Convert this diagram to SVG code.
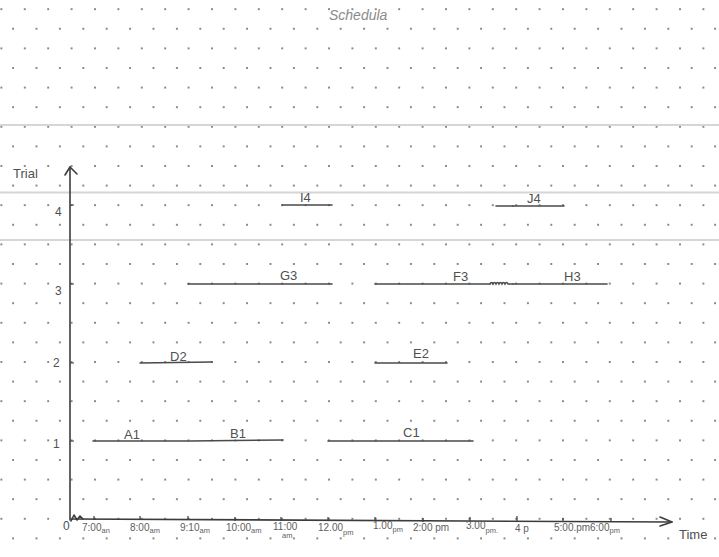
<svg xmlns="http://www.w3.org/2000/svg" width="719" height="557" viewBox="0 0 719 557">
<style>
.seg{stroke:#4a4a4a;stroke-width:1.6;fill:none;stroke-linecap:round}
.axis{stroke:#3c3c3c;stroke-width:1.6;fill:none;stroke-linecap:round;stroke-linejoin:round}
.tick{stroke:#3c3c3c;stroke-width:1.2;fill:none}
.rule{stroke:#d6d6d6;stroke-width:2}
.lbl{font-family:"Liberation Sans","DejaVu Sans",sans-serif;font-size:13px;fill:#505050}
.num{font-family:"Liberation Sans","DejaVu Sans",sans-serif;font-size:12px;fill:#505050}
.tm{font-family:"Liberation Sans","DejaVu Sans",sans-serif;font-size:10px;fill:#606060}
.sub{font-size:7.5px}
.title{font-family:"Liberation Sans","DejaVu Sans",sans-serif;font-size:14px;fill:#8a8a8a;font-style:italic}
</style>
<defs>
<pattern id="dots" patternUnits="userSpaceOnUse" x="0.4" y="8.2" width="23.4" height="39.2">
<circle cx="1" cy="1" r="1" fill="#666666"/>
<circle cx="12.7" cy="20.6" r="1" fill="#666666"/>
</pattern>
</defs>
<rect width="719" height="557" fill="#ffffff"/>
<rect width="719" height="557" fill="url(#dots)"/>
<g id="rules">
<line class="rule" x1="0" y1="125" x2="719" y2="125"/>
<line class="rule" x1="0" y1="192.5" x2="719" y2="192.5"/>
<line class="rule" x1="0" y1="240" x2="719" y2="240"/>
</g>
<text class="title" x="329" y="20">Schedula</text>
<g id="axes">
<path class="axis" d="M70,520 L70,167"/>
<path class="axis" d="M65,175 L70,167 L77,174"/>
<path class="axis" d="M72,519 L672,522"/>
<path class="axis" d="M660,517 L672,522 L660,526"/>
<path class="axis" d="M71,521 L74,515 L77,520 L80,516 L83,519"/>
<path class="tick" d="M70,205 h4 M70,284 h4 M70,363 h4 M70,441 h4"/>
<path class="tick" d="M94,516 v4 M140,516 v4 M188,516 v4 M235,517 v4 M281,517 v4 M328,517 v4 M375,517 v4 M423,518 v4 M470,517 v5 M517,516 v6 M563,518 v4 M611,518 v4"/>
<text class="lbl" x="13" y="178" font-size="14">Trial</text>
<text class="num" x="55" y="216" font-size="15">4</text>
<text class="num" x="55" y="295" font-size="11">3</text>
<text class="num" x="53" y="367">2</text>
<text class="num" x="53" y="448">1</text>
<text class="num" x="63" y="530" font-size="11">0</text>
<text class="lbl" x="679" y="539" font-size="12">Time</text>
</g>
<g id="time-labels">
<text class="tm" x="82" y="531">7:00<tspan class="sub" dy="2">an</tspan></text>
<text class="tm" x="130" y="531">8:00<tspan class="sub" dy="2">am</tspan></text>
<text class="tm" x="180" y="531">9:10<tspan class="sub" dy="2">am</tspan></text>
<text class="tm" x="226" y="531">10:00<tspan class="sub" dy="2">am</tspan></text>
<text class="tm" x="273" y="530" font-size="9">11:00</text>
<text class="tm sub" x="282" y="538">am</text>
<text class="tm" x="318" y="531">12.00<tspan class="sub" dy="4">pm</tspan></text>
<text class="tm" x="373" y="529" font-size="9">1.00<tspan class="sub" dy="3">pm</tspan></text>
<text class="tm" x="413" y="531" font-size="9">2:00 pm</text>
<text class="tm" x="466" y="529" font-size="9">3.00<tspan class="sub" dy="4">pm.</tspan></text>
<text class="tm" x="515" y="532">4 p</text>
<text class="tm" x="554" y="531" font-size="8">5:00.pm</text>
<text class="tm" x="590" y="531" font-size="9">6:00<tspan class="sub" dy="2">pm</tspan></text>
</g>
<g id="connectors">
</g>
<g id="A1"><line class="seg" x1="93" y1="441" x2="189" y2="441"/><text class="lbl" x="124" y="439">A1</text></g>
<g id="B1"><line class="seg" x1="190" y1="441" x2="283" y2="440"/><text class="lbl" x="230" y="438">B1</text></g>
<g id="C1"><line class="seg" x1="328" y1="441" x2="473" y2="441"/><text class="lbl" x="403" y="437">C1</text></g>
<g id="D2"><line class="seg" x1="140" y1="363" x2="212" y2="362"/><text class="lbl" x="170" y="361">D2</text></g>
<g id="E2"><line class="seg" x1="375" y1="363" x2="447" y2="363"/><text class="lbl" x="413" y="358">E2</text></g>
<g id="G3"><line class="seg" x1="188" y1="284" x2="332" y2="284"/><text class="lbl" x="280" y="280">G3</text></g>
<g id="F3"><line class="seg" x1="375" y1="284" x2="490" y2="284"/><text class="lbl" x="453" y="281">F3</text>
<path class="seg" d="M490,284 q1.5,-3 3,0 q1.5,-3 3,0 q1.5,-3 3,0 q1.5,-3 3,0 q1.5,-3 3,0 q1.5,-3 3,0 L513,284" stroke-width="1.3"/></g>
<g id="H3"><line class="seg" x1="513" y1="284" x2="607" y2="284"/><text class="lbl" x="564" y="281">H3</text></g>
<g id="I4"><line class="seg" x1="282" y1="205" x2="332" y2="205"/><text class="lbl" x="300" y="202">I4</text></g>
<g id="J4"><line class="seg" x1="496" y1="206" x2="513" y2="206" stroke="#a0a0a0" stroke-width="1"/><line class="seg" x1="513" y1="206" x2="564" y2="206"/><text class="lbl" x="527" y="203">J4</text></g>
</svg>
